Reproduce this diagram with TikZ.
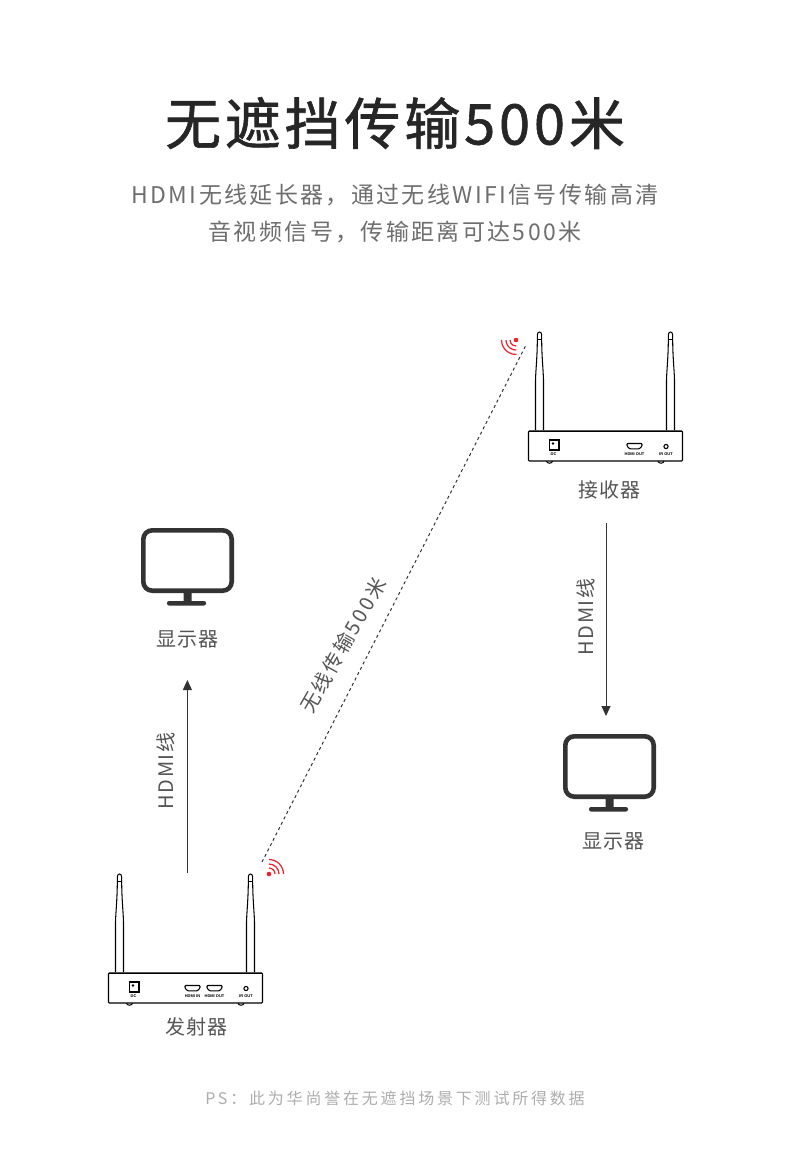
\documentclass[tikz,border=0pt]{standalone}
\usepackage{fontspec}
\setmainfont{Noto Sans CJK SC}
\newfontfamily\titlefont[LetterSpace=6.8,FakeBold=1.1]{Noto Sans CJK SC}
\newfontfamily\subfont[LetterSpace=10.3]{Noto Sans CJK SC}
\newfontfamily\lblfont[LetterSpace=5]{Noto Sans CJK SC}
\newfontfamily\hdmifont[LetterSpace=8]{Noto Sans CJK SC}
\newfontfamily\linkfont[LetterSpace=13]{Noto Sans CJK SC}
\newfontfamily\psfont[LetterSpace=17.5]{Noto Sans CJK SC}
\newfontfamily\tinyfont{Liberation Sans}
\definecolor{ink}{HTML}{333333}
\definecolor{lbl}{HTML}{555555}
\definecolor{sig}{HTML}{F0202A}
\usetikzlibrary{arrows.meta}
\tikzset{
  x=1pt,y=-1pt,
  titletext/.style={inner sep=0,text=black!85,font=\titlefont\fontsize{56}{60}\selectfont},
  subtext/.style={inner sep=0,text=lbl!85,font=\subfont\fontsize{23}{28}\selectfont},
  labeltext/.style={inner sep=0,text=lbl,font=\lblfont\fontsize{20}{24}\selectfont},
  hdmitext/.style={inner sep=0,text=lbl,font=\hdmifont\fontsize{20}{24}\selectfont},
  linktext/.style={inner sep=0,text=lbl,font=\linkfont\fontsize{20}{24}\selectfont},
  pstext/.style={inner sep=0,text=black!32,font=\psfont\fontsize{16}{20}\selectfont},
  porttext/.style={inner sep=0,text=black,font=\tinyfont\bfseries\fontsize{4}{5}\selectfont},
  devline/.style={draw=black,line width=1.05pt},
  arrowline/.style={draw=ink,line width=1pt,-{Triangle[length=10pt,width=9pt]}},
  linkline/.style={draw=ink,line width=1pt,dash pattern=on 3pt off 3pt},
  wave/.style={draw=sig,line width=1.2pt},
  antenna/.pic={
    \draw[devline,fill=white] (-4,98) -- (-4,48) .. controls (-3.6,36) and (-2.2,24) .. (-2.2,8)
      -- (-2.2,3) .. controls (-2.2,-1) and (2.2,-1) .. (2.2,3) -- (2.2,8)
      .. controls (2.2,24) and (3.6,36) .. (4,48) -- (4,98);
    \draw[draw=black,line width=0.5pt] (-2.2,7) -- (2.2,7);
  },
  hdmiport/.pic={
    \draw[devline,fill=white,rounded corners=0.8pt] (-7.5,-2.5) -- (7.5,-2.5) -- (7.5,0) -- (5,2.8) -- (-5,2.8) -- (-7.5,0) -- cycle;
    \draw[black,line width=1.5pt] (-7.5,-2.4) -- (7.5,-2.4);
  },
  monitor/.pic={
    \fill[ink,rounded corners=1pt] (42.5,64) rectangle (50.5,75);
    \fill[ink,rounded corners=2pt] (26,73) rectangle (65,77.5);
    \draw[ink,line width=4.6pt,rounded corners=9pt,fill=white] (2.3,2.3) rectangle (90.7,62.7);
  },
  device/.pic={
    \pic at (11,-99) {antenna};
    \pic at (142,-99) {antenna};
    \draw[devline,fill=white] (18,30) arc[start angle=180,end angle=360,x radius=3pt,y radius=2.2pt];
    \draw[devline,fill=white] (129.5,30) arc[start angle=180,end angle=360,x radius=3pt,y radius=2.2pt];
    \draw[devline,fill=white,rounded corners=0.8pt] (0,0) rectangle (154,30);
    \draw[black,line width=1.8pt] (0.5,0.5) -- (153.5,0.5);
    \draw[devline,fill=white] (21,9) rectangle (30.5,19);
    \fill[black] (24.5,12.5) circle[radius=1.4pt];
    \node[porttext] (dc) at (25,23.5) {DC};
    \pic at (106,15) {hdmiport};
    \node[porttext] (hout) at (106,23.5) {HDMI OUT};
    \draw[devline] (137.5,15.5) circle[radius=2.1pt];
    \node[porttext] (ir) at (137.5,23.5) {IR OUT};
  },
  txdevice/.pic={
    \pic at (0,0) {device};
    \pic at (84,15) {hdmiport};
    \node[porttext] (hin) at (84,23.5) {HDMI IN};
  },
}
\begin{document}
\begin{tikzpicture}
\useasboundingbox (0,0) rectangle (790,1169);
\fill[white] (0,0) rectangle (790,1169);

\node[titletext] (title) at (395,123) {无遮挡传输500米};
\node[subtext] (sub1) at (395,195.5) {HDMI无线延长器，通过无线WIFI信号传输高清};
\node[subtext] (sub2) at (395,231.5) {音视频信号，传输距离可达500米};

\pic (rx) at (528.5,431) {device};
\pic (tx) at (108.5,973) {txdevice};
\pic (monA) at (141,528) {monitor};
\pic (monB) at (563,734) {monitor};

\node[labeltext] (rxlabel) at (609,489.5) {接收器};
\node[labeltext] (txlabel) at (196,1027) {发射器};
\node[labeltext] (monAlabel) at (187,639) {显示器};
\node[labeltext] (monBlabel) at (613,841) {显示器};
\node[hdmitext,rotate=90] (hdmiA) at (166,771) {HDMI线};
\node[hdmitext,rotate=90] (hdmiB) at (586,617) {HDMI线};
\node[linktext,rotate=60.5] (linklabel) at (343,645) {无线传输500米};
\node[pstext] (ps) at (395,1098) {PS：此为华尚誉在无遮挡场景下测试所得数据};

\coordinate (arrowAfrom) at (187.4,873);
\coordinate (arrowAto) at (187.4,680);
\coordinate (arrowBfrom) at (606,523);
\coordinate (arrowBto) at (606,716);
\coordinate (linkA) at (262,862);
\coordinate (linkB) at (525.5,346);
\draw[arrowline] (arrowAfrom) -- (arrowAto);
\draw[arrowline] (arrowBfrom) -- (arrowBto);
\draw[linkline] (linkA) -- (linkB);

\coordinate (sigTop) at (516,340);
\coordinate (sigBot) at (269,874);
\fill[sig] (sigTop) circle[radius=2.3pt];
\fill[sig] (sigBot) circle[radius=2.3pt];
\foreach \r in {6,10,14.5}{
  \draw[wave] (sigTop) ++(180:\r pt) arc[start angle=180,end angle=272,radius=\r pt];
  \draw[wave] (sigBot) ++(90:\r pt) arc[start angle=90,end angle=0,radius=\r pt];
}
\end{tikzpicture}
\end{document}
